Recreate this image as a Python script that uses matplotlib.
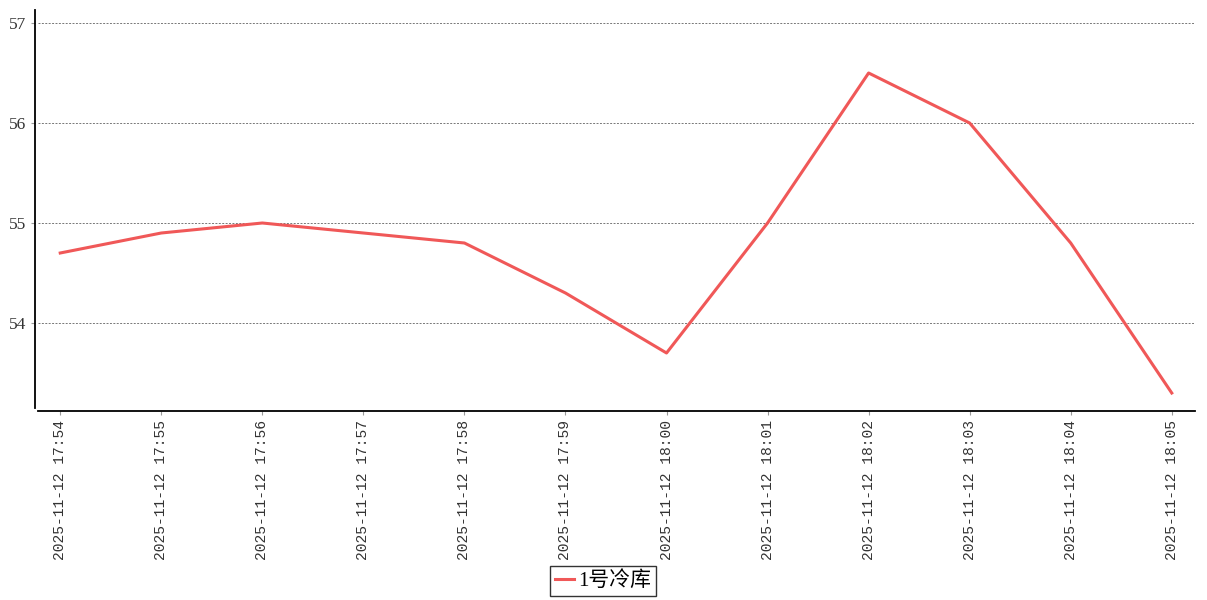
import matplotlib.pyplot as plt

times = ['2025-11-12 17:54', '2025-11-12 17:55', '2025-11-12 17:56', '2025-11-12 17:57',
         '2025-11-12 17:58', '2025-11-12 17:59', '2025-11-12 18:00', '2025-11-12 18:01',
         '2025-11-12 18:02', '2025-11-12 18:03', '2025-11-12 18:04', '2025-11-12 18:05']
temps = [54.7, 54.9, 55.0, 54.9, 54.8, 54.3, 53.7, 55.0, 56.5, 56.0, 54.8, 53.3]
yticks = [54, 55, 56, 57]
series_name = '1号冷库'

fig = plt.figure(figsize=(12.07, 6), dpi=100)
ax = fig.add_axes([38 / 1207, 1 - 408 / 600, (1195 - 38) / 1207, (408 - 10) / 600])

# spines first: set_position resets the ticks
for s in ['top', 'right']:
    ax.spines[s].set_visible(False)
ax.spines['left'].set_position(('outward', 2.5))
ax.spines['bottom'].set_position(('outward', 2.5))
ax.spines['left'].set_linewidth(1.3)
ax.spines['bottom'].set_linewidth(1.3)

x = list(range(len(times)))
ax.plot(x, temps, color='#f05858', linewidth=2.2, label=series_name)

ax.set_xlim(-0.22, len(times) - 1 + 0.23)
ax.set_ylim(53.15, 57.13)
ax.set_yticks(yticks)
ax.set_xticks(x)
ax.set_xticklabels(times, rotation=90, family='Liberation Mono', fontsize=10.5, color='#333333')
ax.set_yticklabels([str(v) for v in yticks], family='Liberation Serif', fontsize=12.5, color='#333333')

ax.grid(axis='y', color='#777777', linestyle=(0, (2, 1.5)), linewidth=0.7)
ax.set_axisbelow(True)

ax.tick_params(axis='x', length=3, color='#999999', pad=3)
ax.tick_params(axis='y', length=3, color='#999999', pad=3)

leg = fig.legend(loc='center', bbox_to_anchor=(603 / 1207, 1 - 581 / 600), frameon=True,
                 fancybox=False, handlelength=0.9, handletextpad=0.2, borderpad=0.25,
                 prop={'family': ['Liberation Serif', 'Noto Sans CJK SC'], 'size': 15})
leg.get_frame().set_edgecolor('black')
leg.get_frame().set_linewidth(1.0)

fig.savefig('out.png', dpi=100)
